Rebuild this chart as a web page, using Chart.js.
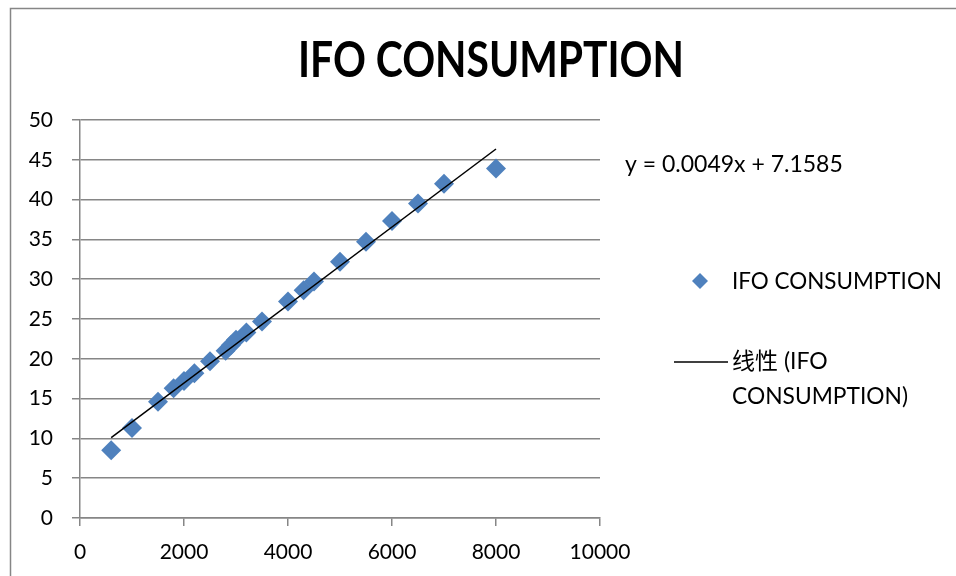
<!DOCTYPE html>
<html>
<head>
<meta charset="utf-8">
<style>
  html, body { margin: 0; padding: 0; background: #fff; overflow: hidden; }
  #wrap { position: relative; width: 956px; height: 576px; }
</style>
<script src="https://cdn.jsdelivr.net/npm/chart.js@4/dist/chart.umd.min.js"></script>
</head>
<body>
<div id="wrap"><canvas id="c" width="956" height="576"></canvas></div>
<script>
// Fuel consumption samples
const speedX = [600, 1000, 1500, 1800, 2000, 2200, 2500, 2800, 2900, 3000, 3200, 3500, 4000, 4300, 4500, 5000, 5500, 6000, 6500, 7000, 8000];
const consumptionY = [8.5, 11.3, 14.6, 16.3, 17.2, 18.2, 19.7, 21.0, 21.7, 22.4, 23.3, 24.7, 27.2, 28.6, 29.7, 32.2, 34.7, 37.3, 39.5, 42.0, 43.9];

// Linear trend coefficients
const trendSlope = 0.0049;
const trendIntercept = 7.1585;

const xTicks = [0, 2000, 4000, 6000, 8000, 10000];
const yTicks = [0, 5, 10, 15, 20, 25, 30, 35, 40, 45, 50];

const chartTitle = 'IFO CONSUMPTION';
const seriesName = 'IFO CONSUMPTION';
const trendName = ['线性 (IFO', 'CONSUMPTION)'];

const FONT = 'Lato, "Noto Sans CJK SC", sans-serif';
const GRID = '#868686';
const BLUE = '#4F81BD';

const points = speedX.map((x, i) => ({ x, y: consumptionY[i] }));
const xMin = Math.min(...speedX), xMax = Math.max(...speedX);
const trendPoints = [xMin, xMax].map(x => ({ x, y: trendSlope * x + trendIntercept }));
const equationText = 'y = ' + trendSlope + 'x + ' + trendIntercept;

// draws text squeezed horizontally to a target width
function fitText(ctx, text, x, y, width, align) {
  const w = ctx.measureText(text).width;
  const k = Math.min(1, width / w);
  ctx.save();
  ctx.translate(x, y);
  ctx.scale(k, 1);
  ctx.textAlign = align;
  ctx.fillText(text, 0, 0);
  ctx.restore();
}

const decorations = {
  id: 'decorations',
  beforeDraw(chart) {
    const ctx = chart.ctx;
    ctx.save();
    ctx.strokeStyle = GRID;
    ctx.lineWidth = 1.5;
    ctx.beginPath();
    ctx.moveTo(10.5, 576);
    ctx.lineTo(10.5, 8.5);
    ctx.lineTo(956, 8.5);
    ctx.stroke();
    ctx.restore();
  },
  afterDraw(chart) {
    const ctx = chart.ctx;
    ctx.save();
    ctx.fillStyle = '#000';
    ctx.textBaseline = 'middle';
    // title
    ctx.font = 'bold 49px ' + FONT;
    fitText(ctx, chartTitle, 491, 61, 386, 'center');
    // equation
    ctx.font = '23px ' + FONT;
    fitText(ctx, equationText, 625, 165, 221, 'left');
    // legend: series marker
    ctx.fillStyle = BLUE;
    ctx.beginPath();
    ctx.moveTo(700, 273);
    ctx.lineTo(708, 281);
    ctx.lineTo(700, 289);
    ctx.lineTo(692, 281);
    ctx.closePath();
    ctx.fill();
    ctx.fillStyle = '#000';
    fitText(ctx, seriesName, 732, 282, 210, 'left');
    // legend: trend line
    ctx.strokeStyle = '#000';
    ctx.lineWidth = 1.5;
    ctx.beginPath();
    ctx.moveTo(674, 362);
    ctx.lineTo(728, 362);
    ctx.stroke();
    fitText(ctx, trendName[0], 732, 362, 104, 'left');
    fitText(ctx, trendName[1], 732, 397, 176, 'left');
    ctx.restore();
  }
};

new Chart(document.getElementById('c'), {
  type: 'scatter',
  data: {
    datasets: [
      {
        label: seriesName,
        data: points,
        pointStyle: 'rectRot',
        pointRadius: 10,
        pointHoverRadius: 10,
        backgroundColor: BLUE,
        borderColor: BLUE,
        borderWidth: 0,
        order: 2
      },
      {
        label: trendName.join(' '),
        type: 'line',
        data: trendPoints,
        borderColor: '#000',
        borderWidth: 1.5,
        pointRadius: 0,
        fill: false,
        order: 1
      }
    ]
  },
  options: {
    responsive: false,
    animation: false,
    events: [],
    layout: { padding: { left: 0, top: 120, right: 356, bottom: 0 } },
    plugins: { legend: { display: false }, title: { display: false }, tooltip: { enabled: false } },
    scales: {
      x: {
        type: 'linear',
        min: 0, max: 10000,
        afterBuildTicks(scale) { scale.ticks = xTicks.map(v => ({ value: v })); },
        afterFit(scale) { scale.height = 58; },
        grid: { drawOnChartArea: false, color: GRID, lineWidth: 1.5, tickLength: 8 },
        border: { color: GRID, width: 1.5 },
        ticks: { color: '#000', font: { family: FONT, size: 21 }, padding: 14, maxRotation: 0, callback: v => String(v) }
      },
      y: {
        min: 0, max: 50,
        afterBuildTicks(scale) { scale.ticks = yTicks.map(v => ({ value: v })); },
        afterFit(scale) { scale.width = 80; },
        grid: { color: GRID, lineWidth: 1.5, tickLength: 8 },
        border: { color: GRID, width: 1.5 },
        ticks: { color: '#000', font: { family: FONT, size: 21 }, padding: 19, callback: v => String(v) }
      }
    }
  },
  plugins: [decorations]
});
</script>
</body>
</html>
